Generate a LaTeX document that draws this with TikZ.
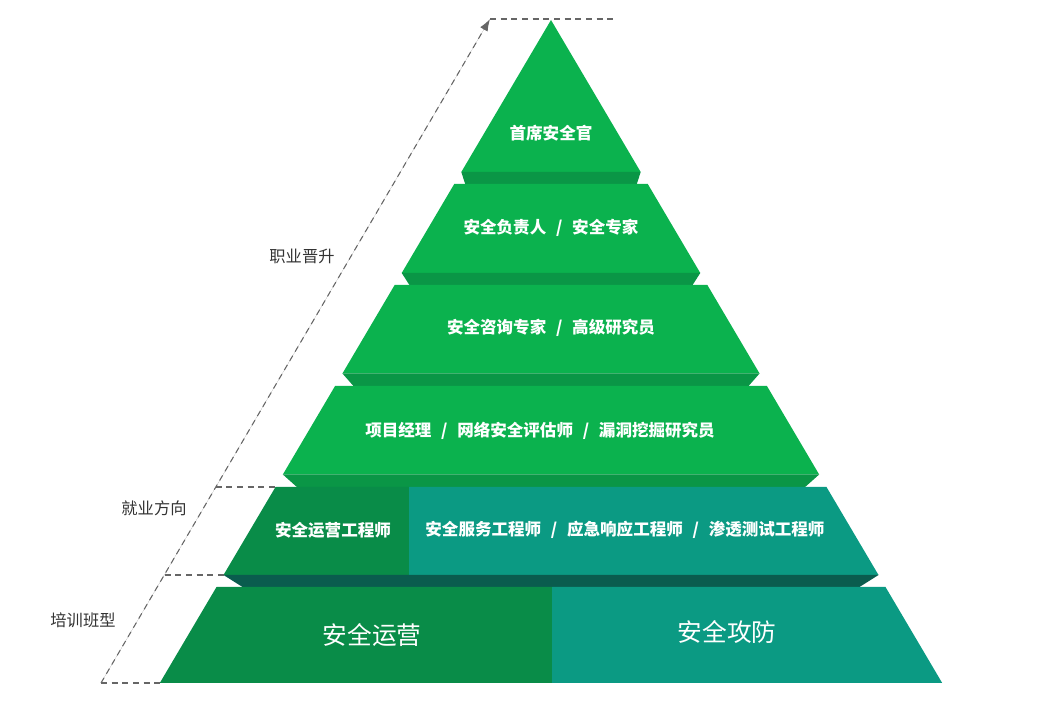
\documentclass[tikz,border=0pt]{standalone}
\usepackage{fontspec}
\setmainfont{Noto Sans CJK SC}
\usetikzlibrary{arrows.meta,calc}

\definecolor{tierGreen}{HTML}{0BB24E}
\definecolor{stripGreen}{HTML}{0A9646}
\definecolor{deepGreen}{HTML}{098C48}
\definecolor{tealFace}{HTML}{0B9A83}
\definecolor{stripTeal}{HTML}{0A5C4E}
\definecolor{guideGray}{HTML}{666666}
\definecolor{sideGray}{HTML}{333333}

\newcommand\orsep{ \hspace{4.5pt}/\hspace{4.5pt} }

\begin{document}
\begin{tikzpicture}[x=0.75pt,y=-0.75pt,
    tier label/.style={text=white,font=\bfseries\fontsize{12.4}{14}\selectfont},
    base label/.style={text=white,font=\fontsize{18.5}{21}\selectfont},
    side label/.style={text=sideGray,font=\fontsize{12.2}{14}\selectfont},
    guide/.style={draw=guideGray,line width=0.8pt,dash pattern=on 4.5pt off 3.5pt}]
  \useasboundingbox (0,0) rectangle (1061,712);

  % Light green steps: top y / bottom y / inset of the shadow strip below
  \foreach \t/\b/\d in {20/172/4,184/273/8,285/373.5/11,386/474.5/14}{
    \fill[tierGreen] ({551-0.59*(\t-20)},\t) -- ({551+0.59*(\t-20)},\t)
      -- ({551+0.59*(\b-20)},\b) -- ({551-0.59*(\b-20)},\b) -- cycle;
    \fill[stripGreen] ({551-0.59*(\b-20)},\b) -- ({551+0.59*(\b-20)},\b)
      -- ({551+0.59*(\b-20)-\d},\b+12.5) -- ({551-0.59*(\b-20)+\d},\b+12.5) -- cycle;
  }

  % Career entry step and training step, each split in two
  \coordinate (jobTop) at (275.5,487);
  \coordinate (jobBot) at (223.5,575);
  \coordinate (trainBot) at (159.8,683);
  \fill[deepGreen] (jobTop) -- (409,487) -- (409,575) -- (jobBot) -- cycle;
  \fill[tealFace] (409,487) -- (826.5,487) -- (878.5,575) -- (409,575) -- cycle;
  \fill[stripTeal] (jobBot) -- (878.5,575) -- (859.5,587) -- (242.5,587) -- cycle;
  \fill[deepGreen] (216.5,587) -- (552,587) -- (552,683) -- (trainBot) -- cycle;
  \fill[tealFace] (552,587) -- (885.5,587) -- (942.2,683) -- (552,683) -- cycle;

  \node[tier label] (ciso) at (551,133) {首席安全官};
  \node[tier label] (lead) at (551,228) {安全负责人\orsep 安全专家};
  \node[tier label] (consult) at (551,328) {安全咨询专家\orsep 高级研究员};
  \node[tier label] (pm) at (540,431) {项目经理\orsep 网络安全评估师\orsep 漏洞挖掘研究员};
  \node[tier label] (opsEng) at (333,530) {安全运营工程师};
  \node[tier label] (svcEng) at (625,530) {安全服务工程师\orsep 应急响应工程师\orsep 渗透测试工程师};
  \node[base label] (opsClass) at (372,635) {安全运营};
  \node[base label] (attackClass) at (727,632) {安全攻防};

  \node[side label] (career) at (302,256) {职业晋升};
  \node[side label] (job) at (154,508) {就业方向};
  \node[side label] (train) at (83,620) {培训班型};

  % Dashed guides
  \coordinate (base) at (101,683);
  \coordinate (peak) at (490,19);
  \coordinate (peakEnd) at (618,19);
  \coordinate (jobMark) at (215.5,487);
  \coordinate (trainMark) at (164.5,575);
  \draw[guide,-{Latex[length=9pt,width=6.5pt]},fill=guideGray] (base) -- (peak);
  \draw[guide] (peak) -- (peakEnd);
  \draw[guide] (base) -- (trainBot);
  \draw[guide] (trainMark) -- (jobBot);
  \draw[guide] (jobMark) -- (jobTop);
\end{tikzpicture}
\end{document}
